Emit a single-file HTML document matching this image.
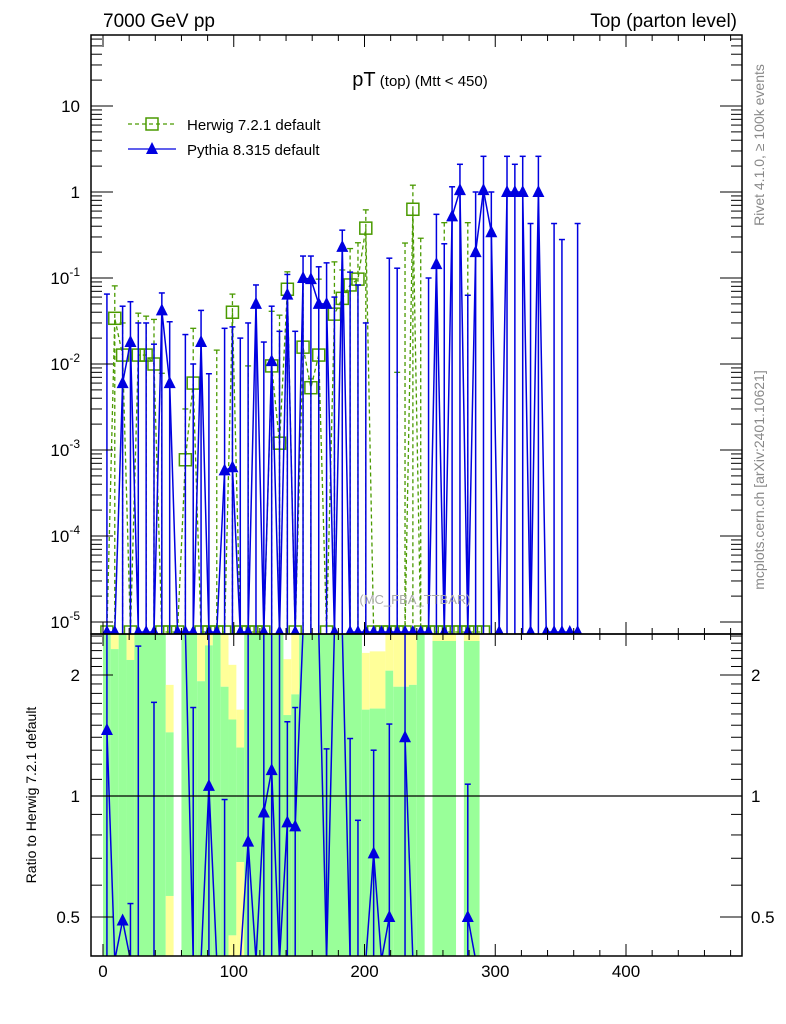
<!DOCTYPE html>
<html><head><meta charset="utf-8"><style>
html,body{margin:0;padding:0;background:#fff;}
svg{display:block;font-family:"Liberation Sans",Arial,sans-serif;}
</style></head><body>
<svg id="chart" width="786" height="1024" viewBox="0 0 786 1024" xmlns="http://www.w3.org/2000/svg">
<defs>
<clipPath id="clipMain"><rect x="91" y="35" width="651" height="599"/></clipPath>
<clipPath id="clipRatio"><rect x="91" y="634" width="651" height="322"/></clipPath>
</defs>
<rect x="0" y="0" width="786" height="1024" fill="#fff"/>
<g id="ratioBands" clip-path="url(#clipRatio)"></g>
<g id="mainMarks" clip-path="url(#clipMain)"></g>
<g id="ratioMarks" clip-path="url(#clipRatio)"></g>
<g id="axes"></g>
<text x="103" y="27" font-size="19">7000 GeV pp</text>
<text x="737" y="27" font-size="19" text-anchor="end">Top (parton level)</text>
<text x="420" y="86" text-anchor="middle"><tspan font-size="20">pT</tspan><tspan font-size="15"> (top) (Mtt &lt; 450)</tspan></text>
<g>
<g>
<line x1="128" y1="124" x2="176" y2="124" stroke="#4a9a00" stroke-width="1.3" stroke-dasharray="4,3"/>
<rect x="146" y="118" width="12" height="12" fill="none" stroke="#4a9a00" stroke-width="1.5"/>
<text x="187" y="130" font-size="15">Herwig 7.2.1 default</text></g>
<g>
<line x1="128" y1="149" x2="176" y2="149" stroke="#0000e0" stroke-width="1.3"/>
<polygon points="152,142 146,154 158,154" fill="#0000e0"/>
<text x="187" y="155" font-size="15">Pythia 8.315 default</text></g>
</g>
<text x="415" y="604" font-size="13" fill="#aaa" text-anchor="middle">(MC_FBA_TTBAR)</text>
<text transform="translate(764,145) rotate(-90)" font-size="14" fill="#888" text-anchor="middle">Rivet 4.1.0, ≥ 100k events</text>
<text transform="translate(764,480) rotate(-90)" font-size="14" fill="#888" text-anchor="middle">mcplots.cern.ch [arXiv:2401.10621]</text>
<text transform="translate(36,795) rotate(-90)" font-size="14" text-anchor="middle">Ratio to Herwig 7.2.1 default</text>
</svg>
<script>
// ---- data ----
const binStart = 0;
const binWidth = 6;
const herwigVals = [0,0.034,0.0127,0,0.0127,0.0127,0.01,0,0,0,7.7e-4,0.006,0,0,0,0,0.04,0,0,0,0,0.0095,0.0012,0.074,0,0.0157,0.0053,0.0127,0,0.038,0.058,0.083,0.097,0.38,0,0,0,0,0,0.63,0,0,0,0,0,0,0,0,0];
const herwigErrTop = [0,0.081,0.03,0,0.039,0.036,0.033,0.0078,0,0,0.003,0.026,0,0,0.0145,0,0.065,0,0.0095,0,0,0.041,0.037,0.118,0,0.097,0.0067,0.097,0,0.154,0.124,0.22,0.257,0.62,0,0,0,0.008,0.255,1.2,0.29,0,0,0.44,0,0,0.44,0,0];
const pythiaVals = [0,0,0.006,0.018,0,0,0,0.042,0.006,0,0,0,0.018,0,0,5.8e-4,6.3e-4,0,0,0.05,0,0.0108,0,0.064,0,0.1,0.097,0.05,0.05,0,0.23,0,0,0,0,0,0,0,0,0,0,0,0.145,0,0.52,1.05,0,0.2,1.05,0.34,0,1.0,1.0,1.0,0,1.0,0,0,0,0,0];
const pythiaErrTop = [0.065,0,0.047,0.053,0.03,0.03,0.017,0.067,0.031,0,0.022,0.01,0.042,0.0077,0,0.026,0.027,0.02,0.03,0.083,0.018,0.047,0.024,0.11,0.024,0.18,0.18,0.135,0.15,0.06,0.36,0.117,0.083,0.03,0,0,0.17,0.13,0,0,0,0.1,0.55,0.25,1.15,2.1,0.063,1.0,2.6,1.0,0,2.6,2.1,2.6,0.43,2.6,0,0.43,0.28,0,0.43];
// ratio: number = value, 0 = below range, 99 = above range, null = undefined
const ratioVals = [1.46,0,0.49,0,0,null,0,null,null,null,99,0,0,1.06,0,0,null,0,0.77,0,0.91,1.16,0,0.86,0.84,99,99,99,0,99,99,0,0,0,0.72,0,0.5,null,1.4,0,null,null,null,null,null,null,0.5,0];
const ratioErrTop = [99,0,0,0.54,2.36,0,1.71,0,0,0,0,1.66,0,99,0,0.98,0,0,99,0,99,99,99,1.53,1.66,0,0,0,1.31,0,0,1.39,0.87,0,1.3,0,1.51,0,99,0,0,0,0,0,0,0,1.07,0];
// band edges (GeV) and ratio levels
const bandX0 = [0,6,12,18,24,48,60,72,78,84,90,96,102,108,138,144,150,198,204,216,222,234,240,252,276];
const bandX1 = [6,12,18,24,48,54,72,78,84,90,96,102,108,138,144,150,198,204,216,222,234,240,246,270,288];
const bandYTop = [2.6,2.6,2.6,2.6,2.6,1.89,2.6,2.6,2.6,2.6,2.6,2.12,1.64,2.6,2.19,2.6,2.6,2.27,2.29,2.6,2.6,2.6,2.6,2.6,2.6];
const bandGTop = [2.6,2.32,2.6,2.18,2.6,1.44,2.6,1.93,2.37,2.6,1.87,1.55,1.32,2.6,1.59,1.79,2.6,1.64,1.65,2.05,1.87,1.89,2.6,2.43,2.43];
const bandGBot = [0.38,0.38,0.38,0.38,0.38,0.564,0.38,0.38,0.38,0.38,0.38,0.45,0.685,0.38,0.38,0.38,0.38,0.38,0.38,0.38,0.38,0.38,0.38,0.38,0.38];
const bandYBot = [0.38,0.38,0.38,0.38,0.38,0.38,0.38,0.38,0.38,0.38,0.38,0.38,0.38,0.38,0.38,0.38,0.38,0.38,0.38,0.38,0.38,0.38,0.38,0.38,0.38];
const xTicks = [0,100,200,300,400];
const mainYTicks = [10,1,0.1,0.01,0.001,0.0001,0.00001];
const mainYLabels = ["10","1","10^-1","10^-2","10^-3","10^-4","10^-5"];
const ratioTicks = [2,1,0.5];
const ratioLabels = ["2","1","0.5"];

// ---- scales ----
const NS="http://www.w3.org/2000/svg";
const X0=91,X1=742,MT=35,MB=634,RB=956;
function xs(v){return 103+v*1.3075;}
function ym(v){ if(!(v>0)) return 632; return Math.min(632, 192-86*Math.log10(v)); }
function yr(r){ if(r===99) return 630; if(!(r>0)) return 960; return Math.max(630,Math.min(960,796-121*Math.log2(r))); }
function mk(tag,attrs,parent){const e=document.createElementNS(NS,tag);for(const k in attrs)e.setAttribute(k,attrs[k]);parent.appendChild(e);return e;}
function bc(k){return binStart+binWidth*(k+0.5);}

// ---- ratio bands ----
const gB=document.getElementById('ratioBands');
for(let i=0;i<bandX0.length;i++){
  const xa=xs(bandX0[i]),xb=xs(bandX1[i]);
  const y1=mk('rect',{x:xa,y:yr(bandYTop[i]),width:xb-xa,height:Math.max(0,yr(bandGTop[i])-yr(bandYTop[i])),fill:'#ffff99'},gB);
  
  
  const g=mk('rect',{x:xa,y:yr(bandGTop[i]),width:xb-xa,height:Math.max(0,yr(bandGBot[i])-yr(bandGTop[i])),fill:'#99ff99'},gB);
  
  
  const y2=mk('rect',{x:xa,y:yr(bandGBot[i]),width:xb-xa,height:Math.max(0,yr(bandYBot[i])-yr(bandGBot[i])),fill:'#ffff99'},gB);
  
  
}

// ---- main series ----
const gM=document.getElementById('mainMarks');
const HC='#4a9a00',PC='#0000e0';
let hp=[];
for(let k=0;k<herwigVals.length;k++){hp.push(xs(bc(k))+','+ym(herwigVals[k]));}
const hl=mk('polyline',{points:hp.join(' '),fill:'none',stroke:HC,'stroke-width':1.3,'stroke-dasharray':'4,3'},gM);


for(let k=0;k<herwigVals.length;k++){
  const x=xs(bc(k));
  if(herwigErrTop[k]>0){
    const e=mk('line',{x1:x,y1:ym(herwigErrTop[k]),x2:x,y2:634,stroke:HC,'stroke-width':1.3,'stroke-dasharray':'4,3'},gM);
    
    
    mk('line',{x1:x-3,y1:ym(herwigErrTop[k]),x2:x+3,y2:ym(herwigErrTop[k]),stroke:HC,'stroke-width':1.3},gM);
  }
  const y=ym(herwigVals[k]);
  const s=mk('rect',{x:x-6,y:y-6,width:12,height:12,fill:'none',stroke:HC,'stroke-width':1.5},gM);
  
  
}
let pp=[];
for(let k=0;k<pythiaVals.length;k++){pp.push(xs(bc(k))+','+ym(pythiaVals[k]));}
const pl=mk('polyline',{points:pp.join(' '),fill:'none',stroke:PC,'stroke-width':1.5},gM);


for(let k=0;k<pythiaVals.length;k++){
  const x=xs(bc(k));
  if(pythiaErrTop[k]>0){
    const e=mk('line',{x1:x,y1:ym(pythiaErrTop[k]),x2:x,y2:634,stroke:PC,'stroke-width':1.5},gM);
    
    
    mk('line',{x1:x-3,y1:ym(pythiaErrTop[k]),x2:x+3,y2:ym(pythiaErrTop[k]),stroke:PC,'stroke-width':1.5},gM);
  }
  const y=ym(pythiaVals[k]);
  const t=mk('polygon',{points:x+','+(y-7)+' '+(x-6)+','+(y+5)+' '+(x+6)+','+(y+5),fill:PC},gM);
  
  
}

// ---- ratio series ----
const gR=document.getElementById('ratioMarks');
let seg=[];
function flush(){ if(seg.length>1){const l=mk('polyline',{points:seg.join(' '),fill:'none',stroke:PC,'stroke-width':1.5},gR);
  
  } seg=[]; }
for(let k=0;k<ratioVals.length;k++){
  const r=ratioVals[k];
  if(r===null){flush();continue;}
  seg.push(xs(bc(k))+','+yr(r));
}
flush();
for(let k=0;k<ratioVals.length;k++){
  const x=xs(bc(k));
  if(ratioErrTop[k]>0){
    const e=mk('line',{x1:x,y1:yr(ratioErrTop[k]),x2:x,y2:960,stroke:PC,'stroke-width':1.5},gR);
    
    
    mk('line',{x1:x-3,y1:yr(ratioErrTop[k]),x2:x+3,y2:yr(ratioErrTop[k]),stroke:PC,'stroke-width':1.5},gR);
  }
  const r=ratioVals[k];
  if(r!==null && r>0 && r!==99){
    const y=yr(r);
    const t=mk('polygon',{points:x+','+(y-7)+' '+(x-6)+','+(y+5)+' '+(x+6)+','+(y+5),fill:PC},gR);
    
    
  }
}
const ref=mk('line',{x1:X0,y1:yr(1),x2:X1,y2:yr(1),stroke:'#000','stroke-width':1.2},gR);



// ---- axes ----
const gA=document.getElementById('axes');
const f1=mk('rect',{x:X0,y:MT,width:X1-X0,height:MB-MT,fill:'none',stroke:'#000','stroke-width':1.5},gA);


const f2=mk('rect',{x:X0,y:MB,width:X1-X0,height:RB-MB,fill:'none',stroke:'#000','stroke-width':1.5},gA);


const tickSides=[[MT,1],[MB,-1],[MB,1],[RB,-1]];
for(let v=0;v<=480;v+=20){
  const x=xs(v),L=(v%100===0)?12:6;
  for(let s=0;s<tickSides.length;s++){const ya=tickSides[s][0],dir=tickSides[s][1];
    mk('line',{x1:x,y1:ya,x2:x,y2:ya+dir*L,stroke:'#000','stroke-width':1},gA);}
}
for(let i=0;i<xTicks.length;i++){
  const t=mk('text',{x:xs(xTicks[i]),y:977,'font-size':17,'text-anchor':'middle'},gA);
  t.textContent=String(xTicks[i]);
  
  
}
for(let d=-5;d<=1;d++){
  for(let m=1;m<=9;m++){
    const v=m*Math.pow(10,d),y=192-86*Math.log10(v);
    if(y<MT||y>MB)continue;
    const L=m===1?22:11;
    mk('line',{x1:X0,y1:y,x2:X0+L,y2:y,stroke:'#000','stroke-width':1},gA);
    mk('line',{x1:X1,y1:y,x2:X1-L,y2:y,stroke:'#000','stroke-width':1},gA);
  }
}
for(let i=0;i<mainYTicks.length;i++){
  const y=ym(mainYTicks[i])+6, lab=mainYLabels[i];
  const yy=(mainYTicks[i]===0.00001)?628:y;
  const t=mk('text',{x:80,y:yy,'font-size':17,'text-anchor':'end'},gA);
  
  
  if(lab.indexOf('^')>=0){
    const p=lab.split('^');
    const a=document.createElementNS(NS,'tspan');a.textContent=p[0];t.appendChild(a);
    const b=document.createElementNS(NS,'tspan');b.textContent=p[1];b.setAttribute('font-size','12');b.setAttribute('dy','-8');t.appendChild(b);
  } else t.textContent=lab;
}
const rMinor=[0.4,0.5,0.6,0.7,0.8,0.9,1,1.1,1.2,1.3,1.4,1.5,1.6,1.7,1.8,1.9,2,2.1,2.2,2.3,2.4,2.5];
for(let i=0;i<rMinor.length;i++){
  const r=rMinor[i];
  const y=796-121*Math.log2(r); if(y<MB||y>RB)continue;
  const L=(r===0.5||r===1||r===2)?22:11;
  mk('line',{x1:X0,y1:y,x2:X0+L,y2:y,stroke:'#000','stroke-width':1},gA);
  mk('line',{x1:X1,y1:y,x2:X1-L,y2:y,stroke:'#000','stroke-width':1},gA);
}
for(let i=0;i<ratioTicks.length;i++){
  const y=yr(ratioTicks[i])+6;
  const t=mk('text',{x:80,y:y,'font-size':17,'text-anchor':'end'},gA);
  t.textContent=ratioLabels[i];
  
  
  const t2=mk('text',{x:751,y:y,'font-size':17},gA);
  t2.textContent=ratioLabels[i];
  
  
}
</script>
</body></html>
